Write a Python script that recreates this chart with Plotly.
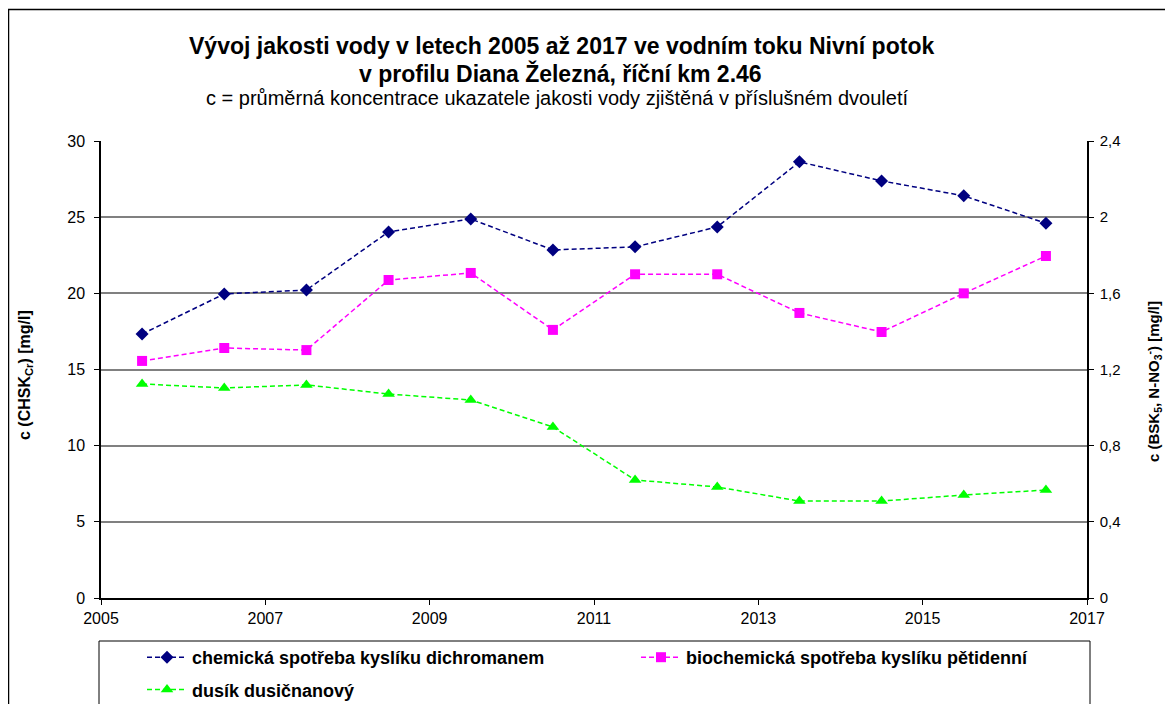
import plotly.graph_objects as go

years = [2005.5, 2006.5, 2007.5, 2008.5, 2009.5, 2010.5, 2011.5, 2012.5, 2013.5, 2014.5, 2015.5, 2016.5]
chsk = [17.33, 19.96, 20.22, 24.03, 24.88, 22.85, 23.05, 24.36, 28.63, 27.38, 26.4, 24.6]
bsk = [1.245, 1.313, 1.302, 1.67, 1.707, 1.408, 1.70, 1.70, 1.497, 1.397, 1.60, 1.796]
no3 = [1.124, 1.103, 1.119, 1.071, 1.04, 0.898, 0.62, 0.583, 0.509, 0.509, 0.541, 0.567]

names = ["chemická spotřeba kyslíku dichromanem",
         "biochemická spotřeba kyslíku pětidenní",
         "dusík dusičnanový"]

x_ticks = [2005, 2007, 2009, 2011, 2013, 2015, 2017]
left_ticks = [0, 5, 10, 15, 20, 25, 30]
right_ticks = [0, 0.4, 0.8, 1.2, 1.6, 2.0, 2.4]
right_labels = ["0", "0,4", "0,8", "1,2", "1,6", "2", "2,4"]

FONT = "Liberation Sans, Arial, sans-serif"
OFF = 8  # page body margin

# figure geometry expressed in page pixels
W, H = 1173 - OFF, 704 - OFF
PL, PR, PT, PB = 101, 1087, 141, 598
L = PL - OFF
R = W - (PR - OFF)
T = PT - OFF
B = H - (PB - OFF)
pw = W - L - R
ph = H - T - B


def px(xpage):
    return (xpage - OFF - L) / pw


def py(ypage):
    return (H - B - (ypage - OFF)) / ph


fig = go.Figure()
fig.add_trace(go.Scatter(x=years, y=chsk, name=names[0], mode="lines+markers",
                         legend="legend", legendgroup="a",
                         line=dict(color="#000080", width=1.5, dash="5px,3px"),
                         marker=dict(symbol="diamond", size=10, color="#000080")))
fig.add_trace(go.Scatter(x=years, y=bsk, name=names[1], mode="lines+markers", yaxis="y2",
                         legend="legend2", legendgroup="b",
                         line=dict(color="#FF00FF", width=1.5, dash="5px,3px"),
                         marker=dict(symbol="square", size=10, color="#FF00FF")))
fig.add_trace(go.Scatter(x=years, y=no3, name=names[2], mode="lines+markers", yaxis="y2",
                         legend="legend", legendgroup="c",
                         line=dict(color="#00FF00", width=1.5, dash="5px,3px"),
                         marker=dict(symbol="triangle-up", size=11, color="#00FF00")))

legend_font = dict(size=18, family=FONT, weight="bold", color="black")

fig.update_layout(
    width=W, height=H,
    margin=dict(l=L, r=R, t=T, b=B, autoexpand=False),
    paper_bgcolor="white", plot_bgcolor="white",
    font=dict(family=FONT, size=15, color="black"),
    showlegend=True,
    xaxis=dict(range=[2005, 2017], tickvals=x_ticks, ticktext=[str(v) for v in x_ticks],
               showgrid=False, zeroline=False, showline=True, linecolor="black", linewidth=1.5,
               ticks="outside", ticklen=5, tickcolor="black", tickfont=dict(size=16)),
    yaxis=dict(range=[0, 30], tickvals=left_ticks, showgrid=True, gridcolor="#808080", gridwidth=1.5,
               zeroline=False, showline=True, linecolor="black", linewidth=1.5,
               ticks="outside", ticklen=5, tickcolor="black", tickfont=dict(size=16),
               ticklabelstandoff=6),
    yaxis2=dict(range=[0, 2.4], overlaying="y", side="right", tickvals=right_ticks, ticktext=right_labels,
                showgrid=False, zeroline=False, showline=True, linecolor="black", linewidth=1.5,
                ticks="outside", ticklen=5, tickcolor="black", tickfont=dict(size=15),
                ticklabelstandoff=3),
    legend=dict(orientation="v", x=px(142), y=py(639), xanchor="left", yanchor="top",
                bgcolor="rgba(0,0,0,0)", borderwidth=0, font=legend_font,
                tracegroupgap=6, itemwidth=40),
    legend2=dict(orientation="v", x=px(636), y=py(639), xanchor="left", yanchor="top",
                 bgcolor="rgba(0,0,0,0)", borderwidth=0, font=legend_font,
                 tracegroupgap=6, itemwidth=40),
)

# Title annotations
fig.add_annotation(text="<b>Vývoj jakosti vody v letech 2005 až 2017 ve vodním toku Nivní potok</b>",
                   x=px(561), y=py(46), xref="paper", yref="paper", showarrow=False,
                   font=dict(size=23, family=FONT), xanchor="center", yanchor="middle")
fig.add_annotation(text="<b>v profilu Diana Železná, říční km 2.46</b>",
                   x=px(560), y=py(73), xref="paper", yref="paper", showarrow=False,
                   font=dict(size=23, family=FONT), xanchor="center", yanchor="middle")
fig.add_annotation(text="c = průměrná koncentrace ukazatele jakosti vody zjištěná v příslušném dvouletí",
                   x=px(557), y=py(98), xref="paper", yref="paper", showarrow=False,
                   font=dict(size=20, family=FONT), xanchor="center", yanchor="middle")

# Axis titles
fig.add_annotation(text="<b>c (CHSK<sub>Cr</sub>) [mg/l]</b>",
                   x=px(25), y=py(375), xref="paper", yref="paper", showarrow=False, textangle=-90,
                   font=dict(size=16, family=FONT), xanchor="center", yanchor="middle")
fig.add_annotation(text="<b>c (BSK<sub>5</sub>, N-NO<sub>3</sub><sup>-</sup>) [mg/l]</b>",
                   x=px(1153), y=py(382), xref="paper", yref="paper", showarrow=False, textangle=-90,
                   font=dict(size=15, family=FONT), xanchor="center", yanchor="middle")

# Outer chart border and legend box
fig.add_shape(type="rect", xref="paper", yref="paper", x0=px(8.5), x1=px(1190), y0=py(720), y1=py(9.5),
              line=dict(color="black", width=1.5), fillcolor="rgba(0,0,0,0)", layer="below")
fig.add_shape(type="rect", xref="paper", yref="paper", x0=px(99), x1=px(1090), y0=py(720), y1=py(641),
              line=dict(color="black", width=1), fillcolor="rgba(0,0,0,0)", layer="below")

fig.write_html("out.html")
